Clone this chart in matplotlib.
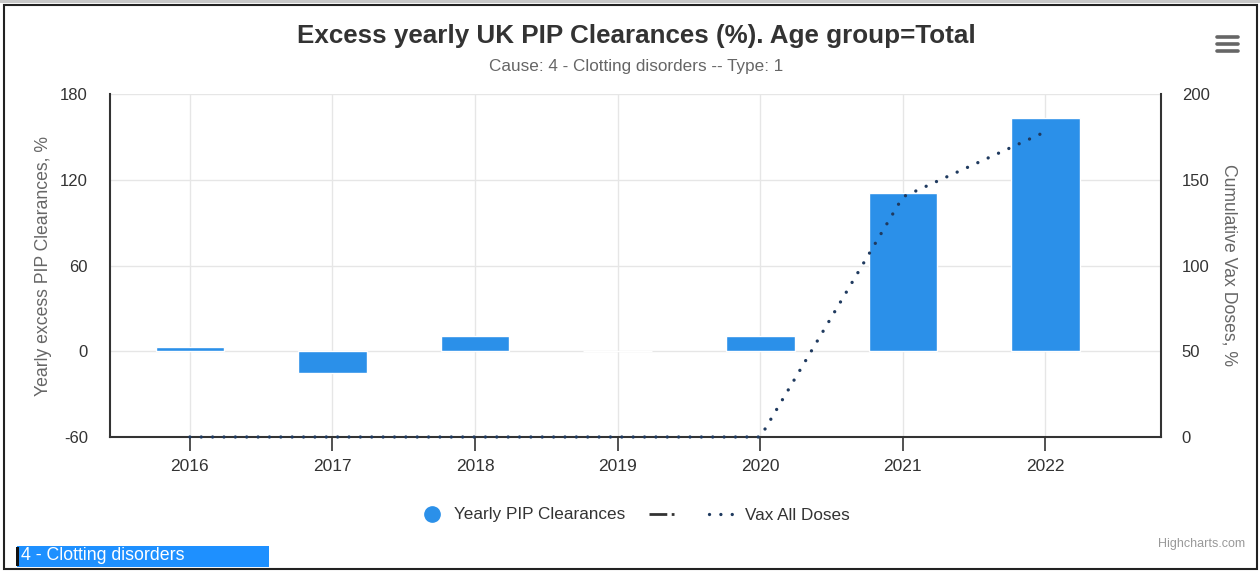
import numpy as np
import matplotlib.pyplot as plt
from matplotlib.lines import Line2D
from matplotlib.patches import Rectangle

plt.rcParams['font.family'] = ['Liberation Sans', 'DejaVu Sans']
plt.rcParams['axes.unicode_minus'] = False

# data
years = ['2016', '2017', '2018', '2019', '2020', '2021', '2022']
excess_pct = [3, -15, 11, 0, 10.5, 111, 163]       # left axis, bars
vax_doses = [0, 0, 0, 0, 0, 140, 178]               # right axis, dotted line

left_ticks = [-60, 0, 60, 120, 180]
right_ticks = [0, 50, 100, 150, 200]

bar_col = '#2b90e9'
line_col = '#1f3a5f'
grey_txt = '#666666'
dark_txt = '#333333'

W, H = 1260, 571
fig = plt.figure(figsize=(W / 100, H / 100), dpi=100)
ax = fig.add_axes([110 / W, 1 - 437 / H, (1161 - 110) / W, (437 - 94) / H])

x = np.arange(len(years))
bars = ax.bar(x, excess_pct, width=0.48, color=bar_col, edgecolor='white', linewidth=1, zorder=3)
ax.set_ylim(-60, 180)
ax.set_yticks(left_ticks)
ax.set_xlim(-0.56, 6.81)
ax.set_xticks(x)
ax.set_xticklabels(years)
ax.grid(color='#e6e6e6', linewidth=1, zorder=0)
ax.set_axisbelow(True)
ax.tick_params(axis='x', length=10, width=1.2, color='#333333', labelsize=12.5, labelcolor=dark_txt, pad=6)
ax.tick_params(axis='y', length=0, labelsize=12, labelcolor=dark_txt, pad=16)
ax.set_ylabel('Yearly excess PIP Clearances, %', fontsize=12.7, color=grey_txt, labelpad=6)
for s in ['left', 'bottom']:
    ax.spines[s].set_color('#333333')
    ax.spines[s].set_linewidth(1.5)
ax.spines['top'].set_visible(False)
ax.spines['right'].set_visible(False)

ax2 = ax.twinx()
ax2.plot(x, vax_doses, color=line_col, linewidth=2.4, linestyle=(0, (0.01, 3.4)),
         dash_capstyle='round', clip_on=False, zorder=5)
ax2.set_ylim(0, 200)
ax2.set_yticks(right_ticks)
ax2.tick_params(axis='y', length=0, labelsize=12, labelcolor=dark_txt, pad=15)
ax2.set_ylabel('Cumulative Vax Doses, %', fontsize=12.7, color=grey_txt, rotation=270, labelpad=20)
ax2.spines['right'].set_color('#333333')
ax2.spines['right'].set_linewidth(1.5)
ax2.spines['top'].set_visible(False)
ax2.spines['left'].set_visible(False)
ax2.spines['bottom'].set_visible(False)

# titles
fig.text(636 / W, 1 - 36 / H, 'Excess yearly UK PIP Clearances (%). Age group=Total',
         ha='center', va='center', fontsize=18.7, fontweight='bold', color=dark_txt)
fig.text(636 / W, 1 - 66 / H, 'Cause: 4 - Clotting disorders -- Type: 1',
         ha='center', va='center', fontsize=12.3, color=grey_txt)

# legend
handles = [
    Line2D([], [], marker='o', color=bar_col, linestyle='none', markersize=11),
    Line2D([], [], color=dark_txt, linestyle='-.', linewidth=2),
    Line2D([], [], color=line_col, linestyle=(0, (0.01, 3.4)), linewidth=2.4, dash_capstyle='round'),
]
fig.legend(handles, ['Yearly PIP Clearances', '', 'Vax All Doses'], loc='center',
           bbox_to_anchor=(0.503, 1 - 515 / H), ncol=3, frameon=False, fontsize=12.3,
           labelcolor=dark_txt, handlelength=1.6, columnspacing=1.4, handletextpad=0.5)

# bottom label box
fig.patches.append(Rectangle((17 / W, 1 - 567 / H), 252 / W, 21 / H, transform=fig.transFigure,
                             facecolor='#1e90ff', edgecolor='none'))
fig.patches.append(Rectangle((16 / W, 1 - 566 / H), 3 / W, 19 / H, transform=fig.transFigure,
                             facecolor='#111111', edgecolor='none'))
fig.text(21 / W, 1 - 556 / H, '4 - Clotting disorders', ha='left', va='center',
         fontsize=12.8, color='white')

# credit
fig.text(1245 / W, 1 - 544 / H, 'Highcharts.com', ha='right', va='center', fontsize=9, color='#999999')

# menu icon
for yy in [37, 44, 51]:
    fig.add_artist(Line2D([1217 / W, 1238 / W], [1 - yy / H, 1 - yy / H], color='#666666',
                          linewidth=2.6, solid_capstyle='round'))

# outer frame
fig.patches.append(Rectangle((0, 1 - 3 / H), 1, 3 / H, transform=fig.transFigure,
                             facecolor='#c8c8c8', edgecolor='none'))
fig.patches.append(Rectangle((4 / W, 2 / H), 1253 / W, 1 - 7 / H, transform=fig.transFigure,
                             facecolor='none', edgecolor='#222222', linewidth=1.5))

fig.savefig('out.png', dpi=100)
